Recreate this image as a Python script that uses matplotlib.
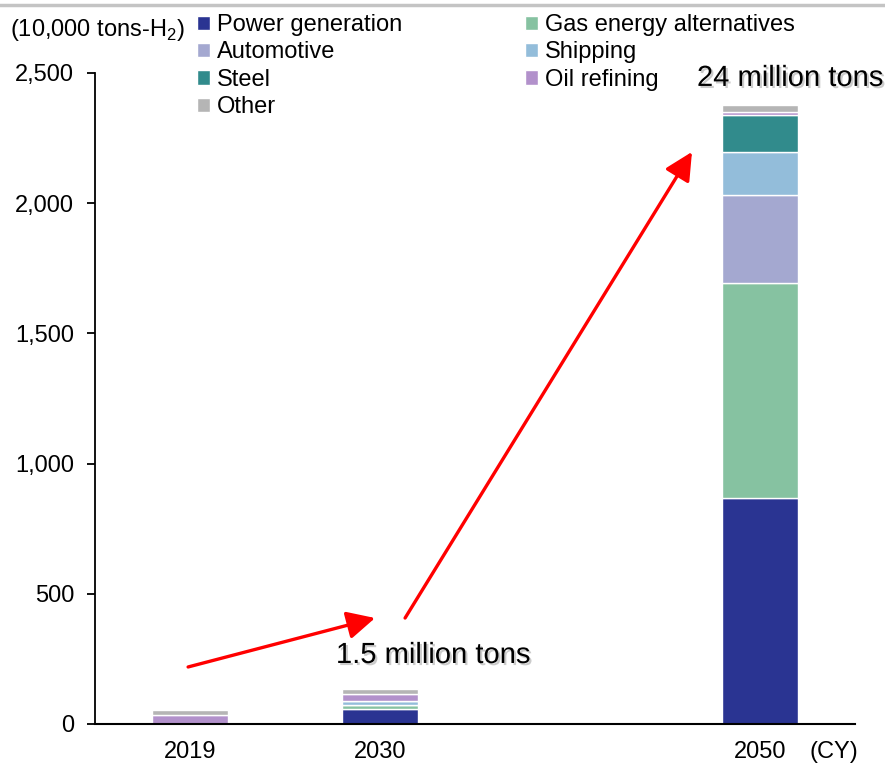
import matplotlib
matplotlib.use("Agg")
import matplotlib.pyplot as plt
import matplotlib.patheffects as pe
from matplotlib.lines import Line2D
import numpy as np

plt.rcParams["font.family"] = ["Liberation Sans", "DejaVu Sans"]
plt.rcParams["mathtext.fontset"] = "custom"
plt.rcParams["mathtext.rm"] = "Liberation Sans"

# Hydrogen demand by sector (10,000 tons-H2)
years = ["2019", "2030", "2050"]
slots = [0, 1, 3]          # 2050 sits one empty slot further right
sectors = ["Power generation", "Gas energy alternatives", "Automotive",
           "Shipping", "Steel", "Oil refining", "Other"]
power_generation = [0, 58, 868]
gas_alternatives = [0, 16, 826]
automotive = [0, 0, 338]
shipping = [0, 16, 163]
steel = [0, 0, 143]
oil_refining = [34, 27, 13]
other = [18, 17, 25]
series = [power_generation, gas_alternatives, automotive, shipping,
          steel, oil_refining, other]
colors = ["#2A3492", "#86C2A1", "#A4A8D0", "#93BDDA", "#318B8C",
          "#B291CB", "#B5B5B5"]
legend_order = [0, 2, 4, 6, 1, 3, 5]

callout_2030 = "1.5 million tons"
callout_2050 = "24 million tons"
yticks = [0, 500, 1000, 1500, 2000, 2500]

fig = plt.figure(figsize=(8.85, 7.64), dpi=100)
ax = fig.add_axes([95 / 885, 1 - 724 / 764, 760 / 885, 651 / 764])

bottom = np.zeros(len(years))
handles = []
for name, vals, col in zip(sectors, series, colors):
    vals = np.array(vals, dtype=float)
    b = ax.bar(slots, vals, bottom=bottom, width=0.395, color=col,
               edgecolor="white", linewidth=1.0, label=name)
    handles.append(b)
    bottom += vals

ax.set_xlim(-0.5, 3.5)
ax.set_ylim(0, 2500)
ax.set_yticks(yticks)
ax.set_yticklabels([f"{v:,}" for v in yticks])
ax.set_xticks(slots)
ax.set_xticklabels(years)
ax.tick_params(axis="x", length=0, labelsize=17, pad=12)
ax.tick_params(axis="y", direction="out", length=6, width=1.3,
               labelsize=17, pad=9)
for s in ["top", "right"]:
    ax.spines[s].set_visible(False)
ax.spines["left"].set_linewidth(1.3)
ax.spines["bottom"].set_linewidth(1.5)

ax.text(3.39, -0.026, "(CY)", transform=ax.get_xaxis_transform(),
        ha="center", va="top", fontsize=17)
fig.text(10 / 885, 1 - 30 / 764, "(10,000 tons-H$_2$)", ha="left",
         va="center", fontsize=17)

# Growth arrows
arrow_kw = dict(arrowstyle="-|>,head_length=1.0,head_width=0.5",
                color="#FF0000", lw=2.4, mutation_scale=17,
                shrinkA=0, shrinkB=0)
ax.annotate("", xy=(0.974, 407), xytext=(-0.01, 219), arrowprops=arrow_kw)
ax.annotate("", xy=(2.642, 2197), xytext=(1.132, 407), arrowprops=arrow_kw)

shadow = [pe.SimplePatchShadow(offset=(1.5, -1.5), shadow_rgbFace="#999999",
                               alpha=0.5), pe.Normal()]
ax.text(1.279, 265, callout_2030, ha="center", va="center", fontsize=21,
        path_effects=shadow)
ax.text(3.158, 2481, callout_2050, ha="center", va="center", fontsize=21,
        path_effects=shadow, clip_on=False)

ax.legend(handles=[handles[i] for i in legend_order], ncol=2,
          loc="upper left", bbox_to_anchor=(197 / 885, 1 - 14 / 764),
          bbox_transform=fig.transFigure, frameon=False, fontsize=17,
          handlelength=0.55, handleheight=0.55, handletextpad=0.3,
          labelspacing=0.23, columnspacing=5.2, borderpad=0,
          borderaxespad=0)

fig.add_artist(Line2D([0, 1], [1 - 5 / 764, 1 - 5 / 764],
                      transform=fig.transFigure, color="#C4C4C4", lw=2.5))

fig.savefig("out.png", dpi=100)
